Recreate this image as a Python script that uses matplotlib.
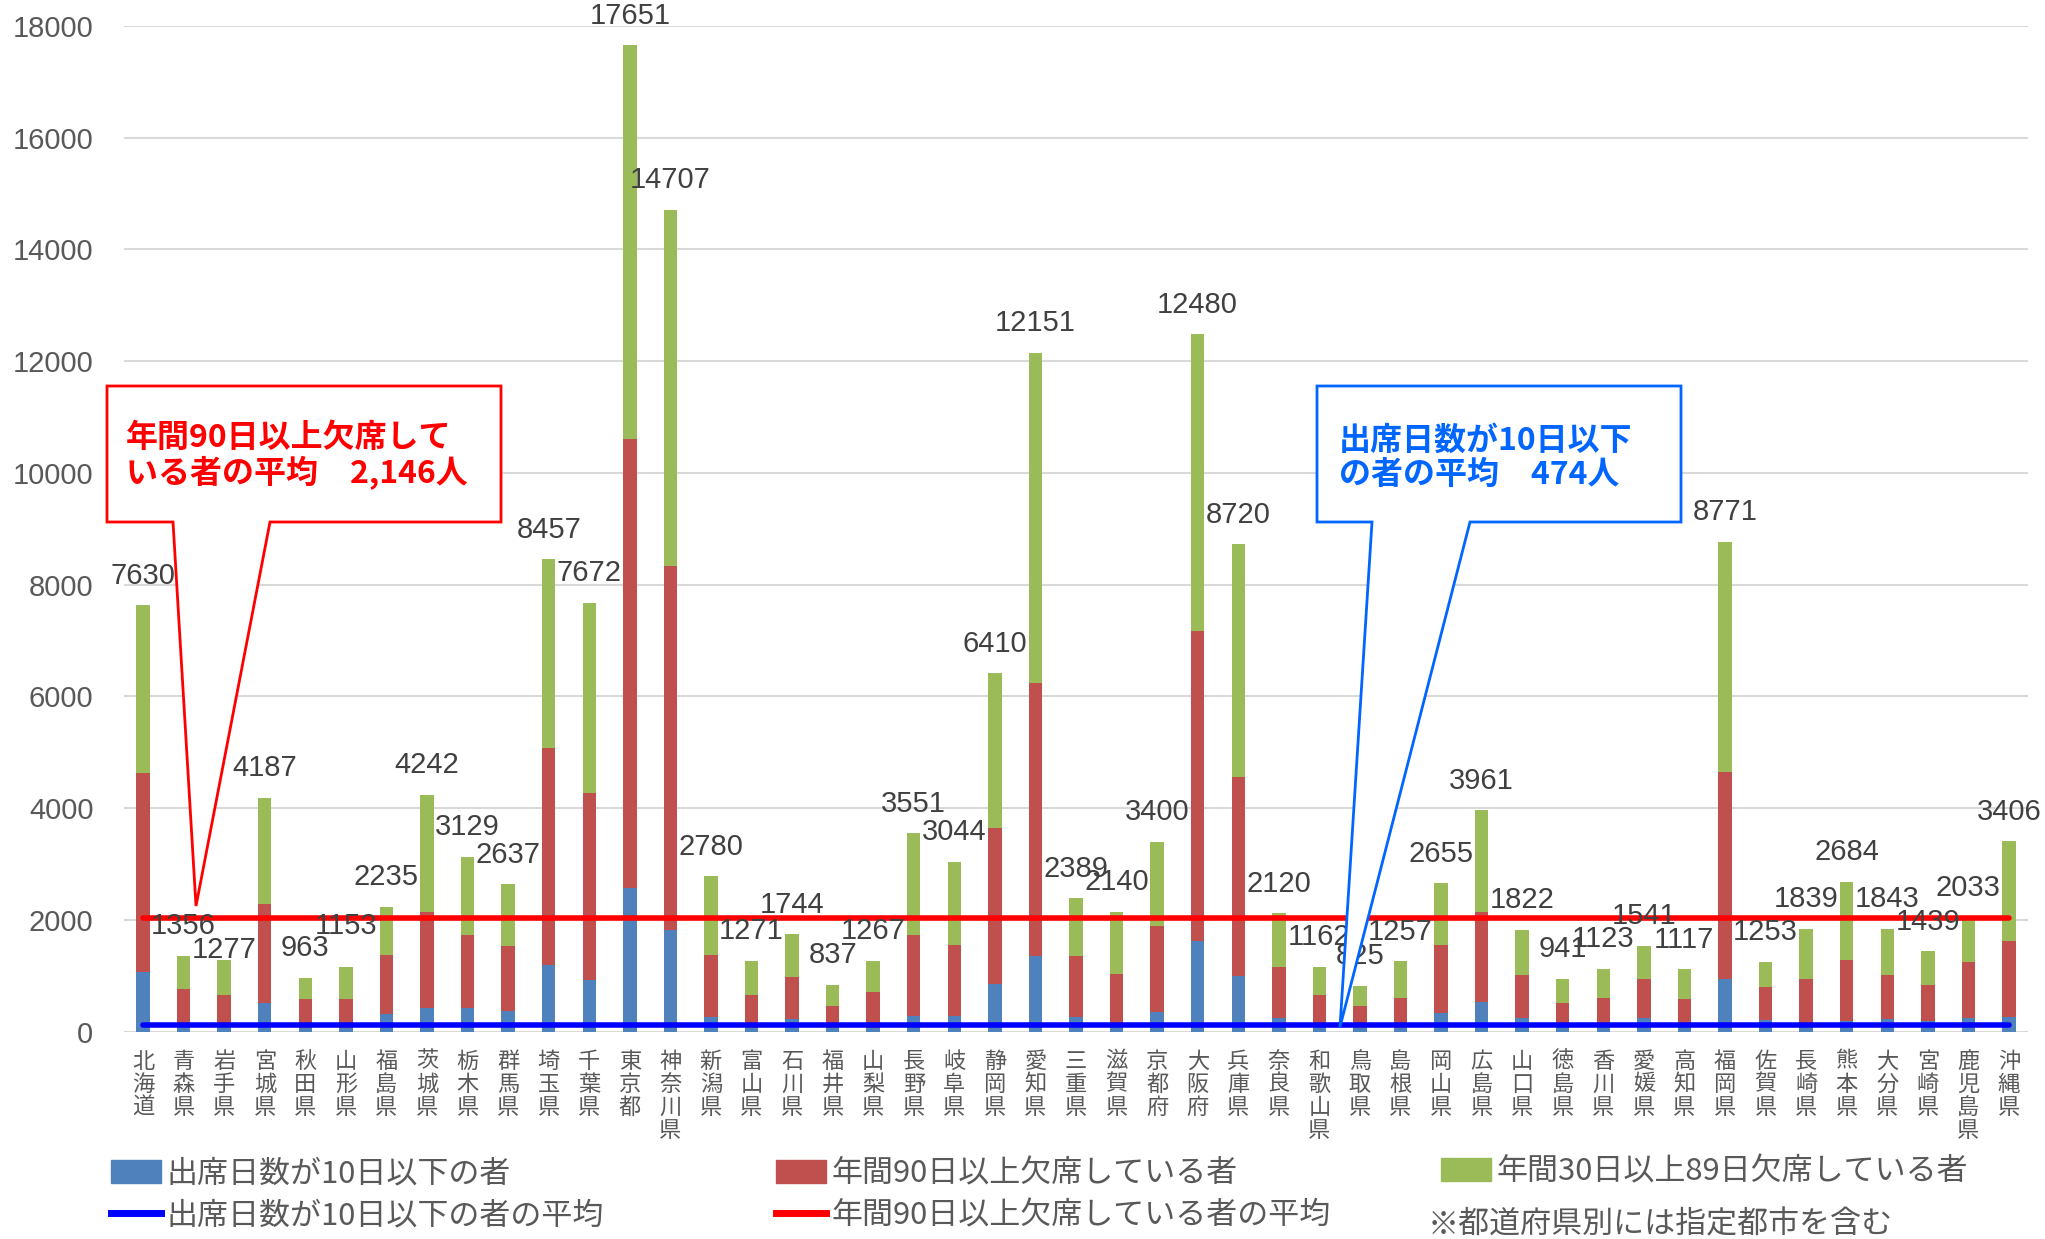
import matplotlib
matplotlib.use('Agg')
import matplotlib.pyplot as plt
from matplotlib.patches import Polygon, Patch
from matplotlib.lines import Line2D
import numpy as np

CJK = ['Noto Sans CJK JP', 'DejaVu Sans']
NUM = ['Liberation Sans', 'DejaVu Sans']

prefectures = ['北海道', '青森県', '岩手県', '宮城県', '秋田県', '山形県', '福島県', '茨城県', '栃木県', '群馬県',
               '埼玉県', '千葉県', '東京都', '神奈川県', '新潟県', '富山県', '石川県', '福井県', '山梨県', '長野県',
               '岐阜県', '静岡県', '愛知県', '三重県', '滋賀県', '京都府', '大阪府', '兵庫県', '奈良県', '和歌山県',
               '鳥取県', '島根県', '岡山県', '広島県', '山口県', '徳島県', '香川県', '愛媛県', '高知県', '福岡県',
               '佐賀県', '長崎県', '熊本県', '大分県', '宮崎県', '鹿児島県', '沖縄県']

# 出席日数が10日以下の者
attend_le10 = [1069, 80, 80, 506, 70, 70, 314, 422, 429, 365,
               1190, 928, 2573, 1824, 269, 70, 230, 60, 60, 282,
               282, 851, 1357, 269, 100, 358, 1626, 992, 250, 150,
               70, 70, 339, 531, 243, 90, 80, 243, 80, 941,
               200, 100, 190, 218, 190, 243, 256]
# 年間90日以上欠席している者
absent_90 = [3565, 682, 573, 1779, 512, 519, 1049, 1716, 1299, 1165,
             3885, 3347, 8030, 6505, 1101, 583, 749, 394, 644, 1446,
             1267, 2791, 4883, 1081, 930, 1530, 5536, 3571, 908, 503,
             384, 532, 1216, 1607, 768, 422, 522, 698, 509, 3712,
             600, 841, 1090, 793, 648, 1005, 1363]
# 年間30日以上89日欠席している者
absent_30_89 = [2996, 594, 624, 1902, 381, 564, 872, 2104, 1401, 1107,
                3382, 3397, 7048, 6378, 1410, 618, 765, 383, 563, 1823,
                1495, 2768, 5911, 1039, 1110, 1512, 5318, 4157, 962, 509,
                371, 655, 1100, 1823, 811, 429, 521, 600, 528, 4118,
                453, 898, 1404, 832, 601, 785, 1787]
# 合計ラベル
totals = [7630, 1356, 1277, 4187, 963, 1153, 2235, 4242, 3129, 2637,
          8457, 7672, 17651, 14707, 2780, 1271, 1744, 837, 1267, 3551,
          3044, 6410, 12151, 2389, 2140, 3400, 12480, 8720, 2120, 1162,
          825, 1257, 2655, 3961, 1822, 941, 1123, 1541, 1117, 8771,
          1253, 1839, 2684, 1843, 1439, 2033, 3406]

# average lines as drawn in the chart
avg_le10_line = 125
avg_90_line = 2030

yticks = [0, 2000, 4000, 6000, 8000, 10000, 12000, 14000, 16000, 18000]

C_BLUE = '#4F81BD'
C_RED = '#C0504D'
C_GREEN = '#9BBB59'
GRAY = '#595959'

W, H = 2045, 1239
fig = plt.figure(figsize=(W / 100, H / 100), dpi=100)
ax = fig.add_axes([124 / W, 1 - 1031.6 / H, (2028 - 124) / W, (1031.6 - 26) / H])

n = len(prefectures)
x = np.arange(n)
bw = 0.33
a = np.array(attend_le10)
r = np.array(absent_90)
g = np.array(absent_30_89)
ax.bar(x, a, bw, color=C_BLUE, zorder=2)
ax.bar(x, r, bw, bottom=a, color=C_RED, zorder=2)
ax.bar(x, g, bw, bottom=a + r, color=C_GREEN, zorder=2)

ax.plot(x, np.full(n, avg_le10_line), color='#0000FF', lw=4, zorder=3, solid_capstyle='round')
ax.plot(x, np.full(n, avg_90_line), color='#FF0000', lw=4, zorder=3, solid_capstyle='round')

label_nudge = {2: -340, 5: 200}
tops = a + r + g
for i, t in enumerate(totals):
    ax.text(x[i], tops[i] + 530 + label_nudge.get(i, 0), str(t), ha='center', va='center',
            fontsize=21, color='#404040', family=NUM, zorder=5)

ax.set_xlim(-0.47, n - 0.53)
ax.set_ylim(0, 18000)
ax.set_yticks(yticks)
ax.set_yticklabels([str(v) for v in yticks], fontsize=21, color=GRAY, family=NUM)
ax.yaxis.grid(True, color='#D9D9D9', lw=1.5, zorder=0)
ax.set_axisbelow(True)
for s in ax.spines.values():
    s.set_visible(False)
ax.tick_params(axis='both', length=0)
ax.tick_params(axis='y', pad=22)
ax.set_xticks(x)
ax.set_xticklabels(['\n'.join(p) for p in prefectures], fontsize=16, color=GRAY,
                   family=CJK, linespacing=1.0)
ax.tick_params(axis='x', pad=13)


def fp(px, py):
    return (px / W, 1 - py / H)


# red callout
red_poly = [fp(107, 386), fp(501, 386), fp(501, 522), fp(270, 522), fp(196, 906),
            fp(173, 522), fp(107, 522)]
fig.add_artist(Polygon(red_poly, closed=True, facecolor='white', edgecolor='#FF0000',
                       lw=2, transform=fig.transFigure, zorder=10))
fig.text(126 / W, 1 - 456 / H, '年間90日以上欠席して\nいる者の平均\u30002,146人', color='#FF0000',
         fontsize=23, fontweight='bold', family=CJK, ha='left', va='center', linespacing=1.1,
         zorder=11)

# blue callout
blue_poly = [fp(1317, 386), fp(1681, 386), fp(1681, 522), fp(1470, 522), fp(1340, 1027),
             fp(1372, 522), fp(1317, 522)]
fig.add_artist(Polygon(blue_poly, closed=True, facecolor='white', edgecolor='#0066FF',
                       lw=2, transform=fig.transFigure, zorder=10))
fig.text(1339 / W, 1 - 458 / H, '出席日数が10日以下\nの者の平均\u3000474人', color='#0066FF',
         fontsize=23, fontweight='bold', family=CJK, ha='left', va='center', linespacing=1.1,
         zorder=11)

# legends (three columns)
leg_kw = dict(loc='center left', frameon=False, borderpad=0, borderaxespad=0,
              handlelength=1.6, handleheight=0.75, handletextpad=0.2, labelspacing=0.35,
              prop={'family': CJK, 'size': 22.3}, labelcolor=GRAY)
ymid = 1 - 1195 / H
fig.legend([Patch(color=C_BLUE), Line2D([], [], color='#0000FF', lw=5)],
           ['出席日数が10日以下の者', '出席日数が10日以下の者の平均'],
           bbox_to_anchor=(111 / W, ymid), **leg_kw)
fig.legend([Patch(color=C_RED), Line2D([], [], color='#FF0000', lw=5)],
           ['年間90日以上欠席している者', '年間90日以上欠席している者の平均'],
           bbox_to_anchor=(776 / W, ymid), **leg_kw)
fig.legend([Patch(color=C_GREEN)], ['年間30日以上89日欠席している者'],
           bbox_to_anchor=(1441 / W, 1 - 1172 / H), **leg_kw)
fig.text(1428 / W, 1 - 1225 / H, '※都道府県別には指定都市を含む', color=GRAY, fontsize=22.3,
         family=CJK, ha='left', va='center')

fig.savefig('out.png', dpi=100)
